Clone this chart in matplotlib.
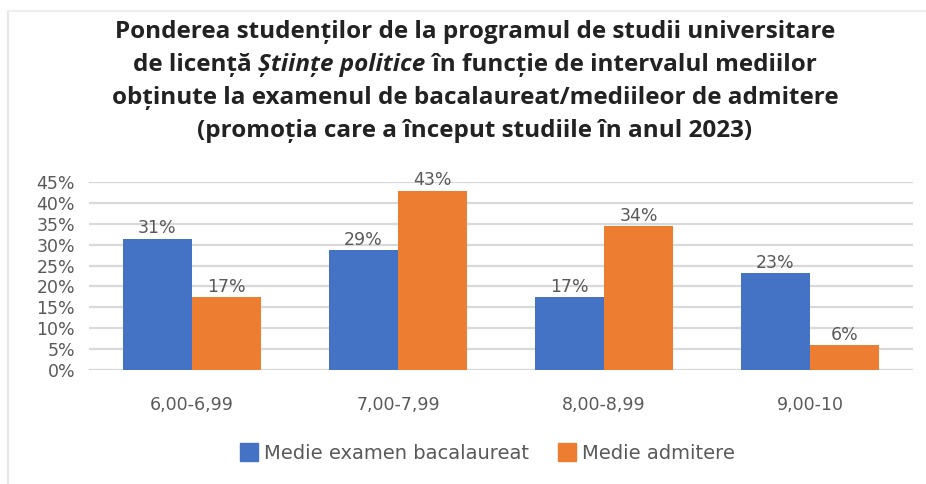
import numpy as np
import matplotlib
matplotlib.use("Agg")
import matplotlib.pyplot as plt
from matplotlib.lines import Line2D

plt.rcParams['font.family'] = ['DejaVu Sans']

categories = ['6,00-6,99', '7,00-7,99', '8,00-8,99', '9,00-10']
bac = [31.4, 28.7, 17.4, 23.2]
admitere = [17.4, 42.9, 34.4, 5.9]
series_names = ['Medie examen bacalaureat', 'Medie admitere']
yticks = list(range(0, 50, 5))

blue = '#4472C4'
orange = '#ED7D31'
grey = '#595959'

fig = plt.figure(figsize=(9.26, 4.84), dpi=100)
ax = fig.add_axes([0.0961, 0.2355, 0.8899, 0.3885])

x = np.arange(len(categories))
w = 0.335
b1 = ax.bar(x - w / 2, bac, w, color=blue, label=series_names[0], zorder=3)
b2 = ax.bar(x + w / 2, admitere, w, color=orange, label=series_names[1], zorder=3)

for bars, vals in [(b1, bac), (b2, admitere)]:
    for r, v in zip(bars, vals):
        ax.annotate(f"{v:.0f}%", (r.get_x() + r.get_width() / 2, v),
                    xytext=(0, 1), textcoords='offset points',
                    ha='center', va='bottom', fontsize=12.5, color=grey)

ax.set_xlim(-0.5, 3.5)
ax.set_ylim(0, 45)
ax.set_yticks(yticks)
ax.set_yticklabels([f"{t}%" for t in yticks])
ax.set_xticks(x)
ax.set_xticklabels(categories)
ax.tick_params(axis='both', length=0, labelsize=12.5, colors=grey)
ax.tick_params(axis='y', pad=10)
ax.tick_params(axis='x', pad=19)
ax.yaxis.grid(True, color='#d9d9d9', linewidth=1.6, zorder=0)
for s in ax.spines.values():
    s.set_visible(False)

handles = [Line2D([], [], marker='s', linestyle='', markersize=13.5, color=blue),
           Line2D([], [], marker='s', linestyle='', markersize=13.5, color=orange)]
fig.legend(handles, series_names, loc='center', bbox_to_anchor=(0.5265, 0.063),
           ncol=2, frameon=False, fontsize=14, labelcolor=grey,
           handletextpad=0.3, columnspacing=1.5, handlelength=0.95)

# title, line 2 mixes upright and italic text
tc = '#222222'
tfs = 17.5
tfam = ['Open Sans', 'DejaVu Sans']
cx = 475 / 926
fig.text(cx, 1 - 32 / 484, 'Ponderea studenților de la programul de studii universitare',
         ha='center', va='center', fontsize=tfs, fontweight='bold', color=tc, family=tfam)
fig.text(cx, 1 - 98 / 484, 'obținute la examenul de bacalaureat/mediileor de admitere',
         ha='center', va='center', fontsize=tfs, fontweight='bold', color=tc, family=tfam)
fig.text(cx, 1 - 131 / 484, '(promoția care a început studiile în anul 2023)',
         ha='center', va='center', fontsize=tfs, fontweight='bold', color=tc, family=tfam)

parts = [('de licență ', 'normal'), ('Științe politice', 'italic'),
         (' în funcție de intervalul mediilor', 'normal')]
y2 = 1 - 65 / 484
txts = [fig.text(0, y2, p, ha='left', va='center', fontsize=tfs, fontweight='bold',
                 style=st, color=tc, family=tfam) for p, st in parts]
fig.canvas.draw()
r = fig.canvas.get_renderer()
widths = [t.get_window_extent(r).width / fig.bbox.width for t in txts]
xpos = cx - sum(widths) / 2
for t, wd in zip(txts, widths):
    t.set_x(xpos)
    xpos += wd

# faint frame of the screenshot
fig.add_artist(Line2D([8 / 926, 8 / 926], [0, 1 - 11 / 484], transform=fig.transFigure,
                      color='#e6e6e6', linewidth=1.5))
fig.add_artist(Line2D([8 / 926, 1], [1 - 11 / 484, 1 - 11 / 484], transform=fig.transFigure,
                      color='#eeeeee', linewidth=1.5))

fig.savefig('out.png', dpi=100)
